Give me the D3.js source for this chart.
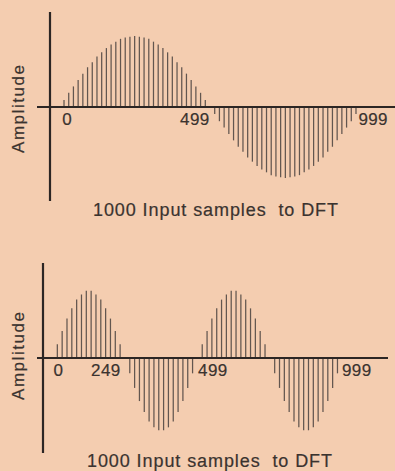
<!DOCTYPE html>
<html>
<head>
<meta charset="utf-8">
<script src="https://cdn.jsdelivr.net/npm/d3@7"></script>
<style>
  html, body { margin: 0; padding: 0; background: #f4cdb0; }
  svg { display: block; }
  text { font-family: "Liberation Sans", Arial, sans-serif; fill: #3a332f; stroke: #3a332f; stroke-width: 0.2px; }
</style>
</head>
<body>
<svg id="chart"></svg>
<script>
// one full cycle, 64 bars
const topValues = [0, 0.10, 0.20, 0.29, 0.38, 0.47, 0.56, 0.63, 0.71, 0.77, 0.83, 0.88, 0.92, 0.96, 0.98, 0.99,
  1.00, 0.99, 0.98, 0.96, 0.92, 0.88, 0.83, 0.77, 0.71, 0.63, 0.56, 0.47, 0.38, 0.29, 0.20, 0.10,
  0, -0.10, -0.20, -0.29, -0.38, -0.47, -0.56, -0.63, -0.71, -0.77, -0.83, -0.88, -0.92, -0.96, -0.98, -0.99,
  -1.00, -0.99, -0.98, -0.96, -0.92, -0.88, -0.83, -0.77, -0.71, -0.63, -0.56, -0.47, -0.38, -0.29, -0.20, -0.10];
const topTickSamples = [0, 499, 999];
const topTickLabels = ["0", "499", "999"];

// two full cycles, 60 bars
const bottomValues = [0, 0.19, 0.37, 0.54, 0.68, 0.80, 0.87, 0.92, 0.92, 0.87, 0.80, 0.68, 0.54, 0.37, 0.19,
  0, -0.21, -0.41, -0.59, -0.74, -0.87, -0.95, -0.99, -0.99, -0.95, -0.87, -0.74, -0.59, -0.41, -0.21,
  0, 0.19, 0.37, 0.54, 0.68, 0.80, 0.87, 0.92, 0.92, 0.87, 0.80, 0.68, 0.54, 0.37, 0.19,
  0, -0.21, -0.41, -0.59, -0.74, -0.87, -0.95, -0.99, -0.99, -0.95, -0.87, -0.74, -0.59, -0.41, -0.21];
const bottomTickSamples = [0, 249, 499, 999];
const bottomTickLabels = ["0", "249", "499", "999"];

const sampleCount = 1000;
const xTitle = "1000 Input samples  to DFT";
const yTitle = "Amplitude";

const width = 395, height = 471;
const svg = d3.select("#chart").attr("width", width).attr("height", height);

function drawPanel(p) {
  var g = svg.append("g");
  var x = d3.scaleLinear().domain([0, sampleCount]).range([p.x0, p.x1]);
  var y = d3.scaleLinear().domain([-1, 1]).range([p.zeroY + p.amp, p.zeroY - p.amp]);
  var step = sampleCount / p.values.length;

  // sample bars
  g.selectAll(".bar").data(p.values)
    .enter()
    .append("line")
    .classed("bar", true)
    .attr("x1", (d, i) => x(i * step))
    .attr("x2", (d, i) => x(i * step))
    .attr("y1", y(0))
    .attr("y2", d => y(d))
    .attr("stroke", "#62564f")
    .attr("stroke-width", 1.25);

  // axes
  g.append("line")
    .attr("x1", p.vx).attr("x2", p.vx)
    .attr("y1", p.vTop).attr("y2", p.vBottom)
    .attr("stroke", "#2c2624").attr("stroke-width", 2.2);
  g.append("line")
    .attr("x1", p.hLeft).attr("x2", p.hRight)
    .attr("y1", y(0)).attr("y2", y(0))
    .attr("stroke", "#2c2624").attr("stroke-width", 2.2);

  // tick labels
  g.selectAll(".tick-label").data(p.ticks)
    .enter()
    .append("text")
    .classed("tick-label", true)
    .attr("x", (d, i) => x(d) + p.tickDx[i])
    .attr("y", y(0) + 18)
    .attr("text-anchor", (d, i) => p.tickAnchor[i])
    .style("font-size", "17px")
    .style("letter-spacing", "0.4px")
    .text((d, i) => p.labels[i]);

  g.append("text")
    .attr("x", p.titleX)
    .attr("y", p.titleY)
    .attr("textLength", 245)
    .attr("lengthAdjust", "spacing")
    .style("font-size", "18px")
    .style("white-space", "pre")
    .text(xTitle);

  g.append("text")
    .attr("transform", "translate(" + p.ampX + "," + p.ampY + ") rotate(-90)")
    .attr("text-anchor", "middle")
    .attr("textLength", 88)
    .attr("lengthAdjust", "spacing")
    .style("font-size", "17px")
    .text(yTitle);
}

drawPanel({
  values: topValues, ticks: topTickSamples, labels: topTickLabels,
  tickDx: [3, 0, -2], tickAnchor: ["start", "end", "start"],
  x0: 59.3, x1: 360.7, zeroY: 107, amp: 71,
  vx: 50, vTop: 12, vBottom: 201, hLeft: 37, hRight: 395,
  titleX: 93, titleY: 216, ampX: 24, ampY: 109
});

drawPanel({
  values: bottomValues, ticks: bottomTickSamples, labels: bottomTickLabels,
  tickDx: [1, -4, 1, 0], tickAnchor: ["start", "end", "start", "start"],
  x0: 52.5, x1: 342.3, zeroY: 358, amp: 73,
  vx: 43, vTop: 263, vBottom: 453, hLeft: 37, hRight: 388,
  titleX: 87, titleY: 467, ampX: 24, ampY: 356
});
</script>
</body>
</html>
